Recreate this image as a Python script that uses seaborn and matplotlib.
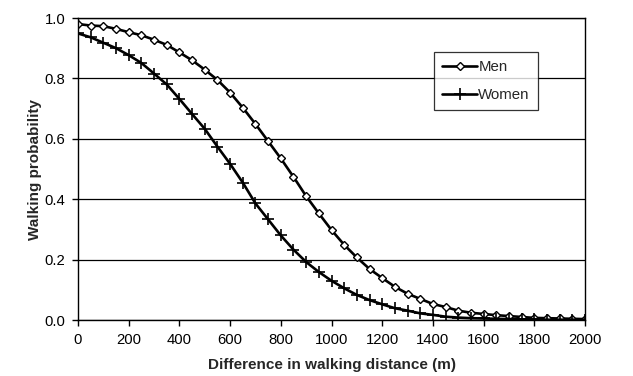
import numpy as np
import pandas as pd
import matplotlib.pyplot as plt
import seaborn as sns

distance = list(range(0, 2001, 50))

men = [0.98, 0.975, 0.973, 0.964, 0.953, 0.943, 0.928, 0.911, 0.886, 0.86,
       0.829, 0.795, 0.753, 0.703, 0.649, 0.592, 0.535, 0.474, 0.41, 0.353,
       0.298, 0.249, 0.207, 0.169, 0.139, 0.11, 0.087, 0.07, 0.053, 0.043,
       0.031, 0.024, 0.02, 0.016, 0.013, 0.01, 0.007, 0.006, 0.005, 0.004,
       0.003]

women = [0.949, 0.936, 0.918, 0.9, 0.877, 0.851, 0.816, 0.78, 0.732, 0.682,
         0.633, 0.574, 0.517, 0.455, 0.386, 0.333, 0.28, 0.233, 0.192, 0.159,
         0.13, 0.105, 0.083, 0.066, 0.052, 0.039, 0.031, 0.022, 0.017, 0.011,
         0.008, 0.006, 0.005, 0.004, 0.003, 0.002, 0.002, 0.001, 0.001, 0.001,
         0.001]

df = pd.DataFrame({'distance': distance, 'Men': men, 'Women': women})

sns.set_style('white')
plt.rcParams['font.family'] = ['Liberation Sans', 'DejaVu Sans']

fig = plt.figure(figsize=(6.33, 3.76), dpi=100)
ax = fig.add_axes([78 / 633, 1 - 320 / 376, 507 / 633, 302 / 376])

sns.lineplot(data=df, x='distance', y='Men', ax=ax, color='black', lw=1.9,
             marker='D', markersize=4, markerfacecolor='white',
             markeredgecolor='black', markeredgewidth=1.0, label='Men')
sns.lineplot(data=df, x='distance', y='Women', ax=ax, color='black', lw=1.9,
             marker='+', markersize=8, markeredgecolor='black',
             markeredgewidth=1.2, label='Women')

ax.set_xlim(0, 2000)
ax.set_ylim(0, 1.0)
ax.set_xticks(range(0, 2001, 200))
ax.set_yticks(np.arange(0, 1.01, 0.2))
ax.set_yticklabels(['0.0', '0.2', '0.4', '0.6', '0.8', '1.0'])
ax.yaxis.grid(True, color='black', lw=0.9)
ax.set_axisbelow(True)
for s in ax.spines.values():
    s.set_color('black')
    s.set_linewidth(1.0)
ax.tick_params(axis='both', direction='out', length=4, width=1, colors='black',
               labelsize=10.7, left=True, bottom=True, pad=5)
ax.set_xlabel('Difference in walking distance (m)', fontsize=11,
              fontweight='bold', labelpad=8)
ax.set_ylabel('Walking probability', fontsize=11, fontweight='bold',
              labelpad=2)

leg = ax.legend(loc='upper left', bbox_to_anchor=(356 / 507, 1 - 34 / 302),
                frameon=True, fancybox=False, fontsize=10.8, handlelength=2.3,
                borderpad=0.55, labelspacing=0.9, handletextpad=0.1,
                borderaxespad=0)
leg.get_frame().set_edgecolor('black')
leg.get_frame().set_linewidth(0.9)

fig.savefig('out.png', dpi=100)
